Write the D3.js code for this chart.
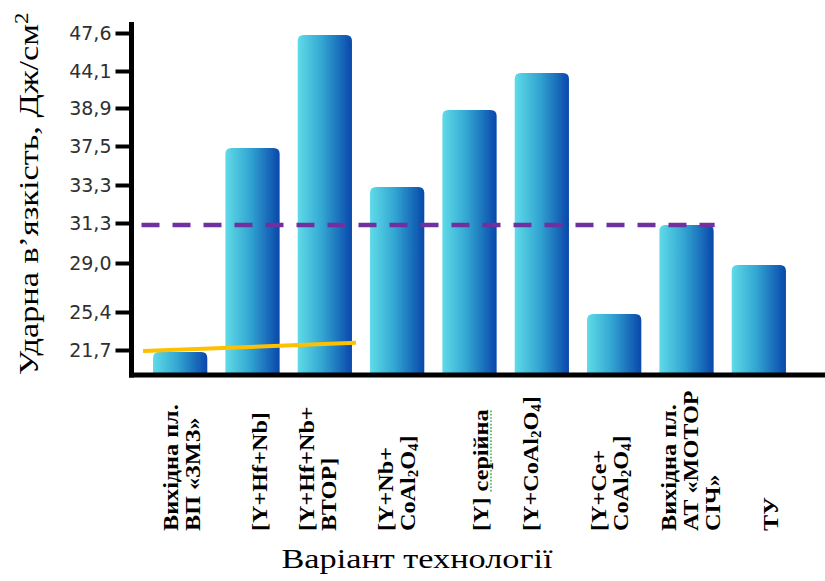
<!DOCTYPE html>
<html>
<head>
<meta charset="utf-8">
<script src="https://cdn.jsdelivr.net/npm/d3@7"></script>
<style>
  html, body { margin: 0; padding: 0; background: #fff; }
  svg { display: block; }
</style>
</head>
<body>
<svg id="chart" width="825" height="581"></svg>
<script>
// ---- data ----
const categories = [
  ["Вихідна пл.", "ВП «ЗМЗ»"],
  ["[Y+Hf+Nb]"],
  ["[Y+Hf+Nb+", "ВТОР]"],
  ["[Y+Nb+", "CoAl_2O_4]"],
  ["[Y] серійна"],
  ["[Y+CoAl_2O_4]"],
  ["[Y+Ce+", "CoAl_2O_4]"],
  ["Вихідна пл.", "АТ «МОТОР", "СІЧ»"],
  ["ТУ"]
];
const impactValues = [21.7, 37.5, 47.6, 33.3, 38.9, 44.1, 25.4, 31.3, 29.0];
const tickValues = [21.7, 25.4, 29.0, 31.3, 33.3, 37.5, 38.9, 44.1, 47.6];
const referenceLevel = 31.3;        // dashed level line
const trendValues = [21.6, 22.4];   // yellow trend segment over the first three variants
const yTitle = "Ударна в’язкість, Дж/см";
const xTitle = "Варіант технології";

// ---- layout ----
const W = 825, H = 581;
const axisX = 131.5, axisTop = 22, baseY = 375;
const tickRowsY = [350, 312, 263, 223, 185, 146, 108, 71, 33];  // unevenly spaced value rows
const labelBaseY = 531, labelLine = 22;
const labelNudge = [1, 7, -7, -1, 11, -11, -5, 4, 12];
const titleStretch = 1.27;   // wide-set serif titles
const labelStretch = 1.1;

const svg = d3.select("#chart");

const x = d3.scaleBand()
  .domain(d3.range(categories.length))
  .range([144, 795])
  .paddingInner(0.25)
  .paddingOuter(0.125);

// piecewise linear value axis through the labelled rows
const y = d3.scaleLinear().domain(tickValues).range(tickRowsY);

// gradient for the bars
const defs = svg.append("defs");
const grad = defs.append("linearGradient").attr("id", "barGrad")
  .attr("x1", "0").attr("x2", "1").attr("y1", "0").attr("y2", "0");
grad.append("stop").attr("offset", "0").attr("stop-color", "#5fdbe8");
grad.append("stop").attr("offset", "0.45").attr("stop-color", "#33a6d2");
grad.append("stop").attr("offset", "1").attr("stop-color", "#0847ab");
const soft = defs.append("filter").attr("id", "soft")
  .attr("x", "-10%").attr("y", "-10%").attr("width", "120%").attr("height", "120%");
soft.append("feGaussianBlur").attr("stdDeviation", 0.6);

// bars with rounded tops
function barPath(x0, w, yTop, yBot, r) {
  return `M${x0},${yBot}V${yTop + r}Q${x0},${yTop} ${x0 + r},${yTop}` +
         `H${x0 + w - r}Q${x0 + w},${yTop} ${x0 + w},${yTop + r}V${yBot}Z`;
}
svg.append("g").selectAll("path")
  .data(impactValues)
  .join("path")
  .attr("d", (v, i) => barPath(x(i), x.bandwidth(), y(v) + 2, baseY, 6))
  .attr("fill", "url(#barGrad)")
  .attr("filter", "url(#soft)");

// reference level (dashed)
svg.append("line")
  .attr("x1", axisX + 10)
  .attr("x2", x(7) + x.bandwidth() + 1)
  .attr("y1", y(referenceLevel) + 2).attr("y2", y(referenceLevel) + 2)
  .attr("stroke", "#7030a0").attr("stroke-width", 4.5)
  .attr("stroke-dasharray", "18 13");

// trend segment
svg.append("line")
  .attr("x1", x(0) - 10)
  .attr("x2", x(2) + x.bandwidth() + 4)
  .attr("y1", y(trendValues[0])).attr("y2", y(trendValues[1]))
  .attr("stroke", "#ffc000").attr("stroke-width", 4)
  .attr("stroke-linecap", "butt");

// value axis
const yAxis = d3.axisLeft(y)
  .tickValues(tickValues)
  .tickSize(16)
  .tickPadding(4)
  .tickFormat(d => d3.format(".1f")(d).replace(".", ","));
const gy = svg.append("g").attr("transform", `translate(${axisX},0)`).call(yAxis);
gy.select(".domain").remove();
gy.selectAll(".tick line").attr("stroke", "#000").attr("stroke-width", 4);
gy.selectAll(".tick text")
  .attr("font-family", "'DejaVu Sans', sans-serif")
  .attr("font-size", 19)
  .attr("fill", "#303030");

// axis frame lines
svg.append("line")
  .attr("x1", axisX).attr("x2", axisX)
  .attr("y1", axisTop).attr("y2", baseY + 2.5)
  .attr("stroke", "#000").attr("stroke-width", 5);
svg.append("line")
  .attr("x1", axisX - 2.5).attr("x2", W)
  .attr("y1", baseY).attr("y2", baseY)
  .attr("stroke", "#000").attr("stroke-width", 5);

// category labels (vertical, bold serif, with chemical subscripts)
function fillLine(textSel, str) {
  const parts = str.split(/(_\d)/).filter(s => s.length);
  parts.forEach(p => {
    if (p[0] === "_") {
      textSel.append("tspan").attr("font-size", "0.62em")
        .attr("baseline-shift", "-18%").text(p.slice(1));
    } else {
      textSel.append("tspan").text(p);
    }
  });
}
const capH = 15;
categories.forEach((lines, i) => {
  const cx = x(i) + x.bandwidth() / 2 + labelNudge[i];
  const n = lines.length;
  const g = svg.append("g")
    .attr("transform", `translate(${cx},${labelBaseY}) rotate(-90) scale(${labelStretch},1)`);
  lines.forEach((ln, j) => {
    const t = g.append("text")
      .attr("x", 0)
      .attr("y", j * labelLine - ((n - 1) * labelLine) / 2 + capH / 2)
      .attr("font-family", "'Liberation Serif', 'Times New Roman', serif")
      .attr("font-weight", "bold")
      .attr("font-size", 22)
      .attr("fill", "#000");
    fillLine(t, ln);
    // proofing underline under "серійна"
    if (ln.includes("серійна")) {
      const node = t.node();
      const start = ln.indexOf("серійна");
      const x0 = node.getSubStringLength(0, start);
      const len = node.getSubStringLength(start, 7);
      g.append("line")
        .attr("x1", x0).attr("x2", x0 + len)
        .attr("y1", +t.attr("y") + 3).attr("y2", +t.attr("y") + 3)
        .attr("stroke", "#4caf50").attr("stroke-width", 1.6)
        .attr("stroke-dasharray", "1.5 1.5");
    }
  });
});

// axis titles
const yt = svg.append("text")
  .attr("transform", `translate(38,${baseY}) rotate(-90) scale(${titleStretch},1)`)
  .attr("font-family", "'Liberation Serif', 'Times New Roman', serif")
  .attr("font-size", 27)
  .attr("fill", "#000");
yt.append("tspan").text(yTitle);
yt.append("tspan").attr("font-size", 18).attr("baseline-shift", "super").text("2");

svg.append("text")
  .attr("transform", `translate(417,568) scale(${titleStretch},1)`)
  .attr("text-anchor", "middle")
  .attr("font-family", "'Liberation Serif', 'Times New Roman', serif")
  .attr("font-size", 27)
  .attr("fill", "#000")
  .text(xTitle);
</script>
</body>
</html>
